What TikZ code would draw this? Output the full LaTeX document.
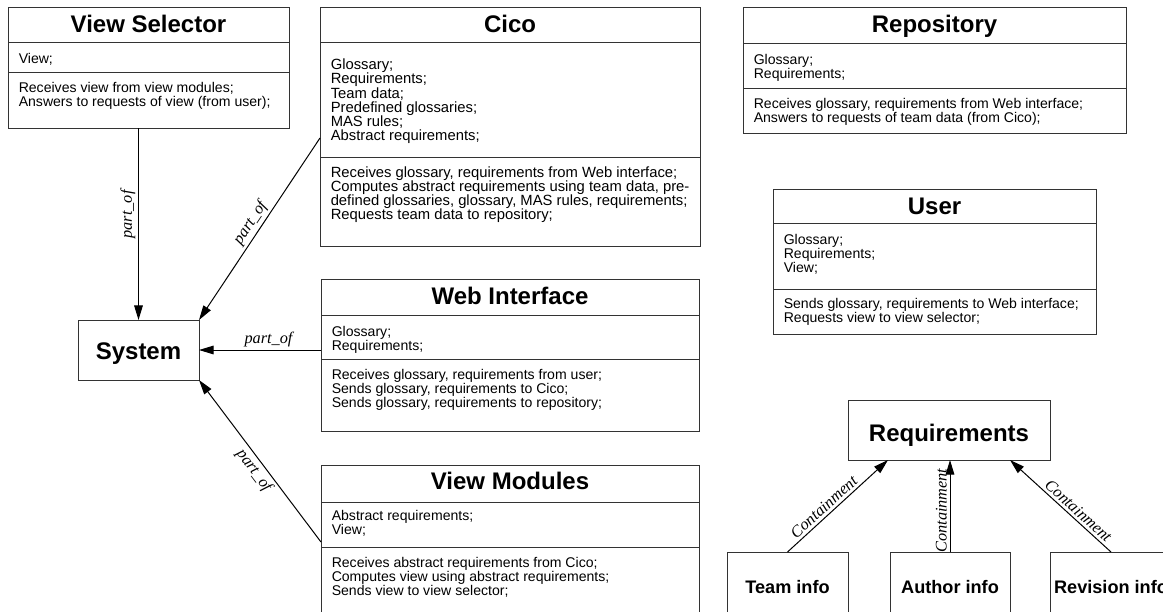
\documentclass[tikz,border=0pt]{standalone}
\usepackage{fontspec}
\setmainfont{Liberation Sans}
\newfontfamily\labfont{Liberation Serif}
\usetikzlibrary{arrows.meta,calc}
\newcommand\clsbox[5]{\node[box, minimum width={(#4-#2)*0.75pt}, minimum height={(#5-#3)*0.75pt}] (#1) at (#2,#3) {};}
\newcommand\clsdiv[2]{\draw[divl] (#1.west |- 0,#2) -- (#1.east |- 0,#2);}
% name, x, first baseline (px), text lines separated by \\
\newcommand\clstext[4]{\node[body] (#1) at (#2,{#3-12}) {\rule{0pt}{9pt}#4};}
\newcommand\clstextc[4]{\node[body, font=\fontsize{11.1}{10.65}\selectfont] (#1) at (#2,{#3-12}) {\rule{0pt}{9pt}#4};}
\begin{document}
\begin{tikzpicture}[x=0.75pt,y=-0.75pt,
 box/.style={draw=black!80, line width=0.75pt, anchor=north west, inner sep=0pt, outer sep=0pt},
 divl/.style={draw=black!80, line width=0.75pt},
 title/.style={anchor=base, inner sep=0pt, font=\fontsize{18}{20}\selectfont\bfseries},
 small/.style={anchor=base, inner sep=0pt, font=\fontsize{13.6}{16}\selectfont\bfseries},
 body/.style={anchor=north west, inner sep=0pt, align=left, font=\fontsize{10.55}{10.6}\selectfont},
 arr/.style={draw=black, line width=0.75pt, -{Triangle[length=11pt,width=6.5pt]}},
 lab/.style={font=\labfont\itshape\fontsize{12.2}{14}\selectfont, inner sep=2pt},
]
\useasboundingbox (0,0) rectangle (1163,611);
\clip (0,0) rectangle (1163,611);

% View Selector
\clsbox{vs}{8}{7}{289}{128}
\node[title] (vs-t) at (148.5,32.5) {View Selector};
\clsdiv{vs}{42}
\clsdiv{vs}{72}
\clstext{vs-a}{18.5}{63}{View;}
\clstext{vs-o}{18.5}{92}{Receives view from view modules;\\Answers to requests of view (from user);}

% Cico
\clsbox{cico}{320}{7}{700}{246}
\node[title] (cico-t) at (510,32.5) {Cico};
\clsdiv{cico}{42}
\clsdiv{cico}{157}
\clstextc{cico-a}{330.5}{69.5}{Glossary;\\Requirements;\\Team data;\\Predefined glossaries;\\MAS rules;\\Abstract requirements;}
\clstextc{cico-o}{330.5}{177}{Receives glossary, requirements from Web interface;\\Computes abstract requirements using team data, pre-\\defined glossaries, glossary, MAS rules, requirements;\\Requests team data to repository;}

% Repository
\clsbox{repo}{743}{7}{1126}{133}
\node[title] (repo-t) at (934.5,32.5) {Repository};
\clsdiv{repo}{43}
\clsdiv{repo}{88}
\clstext{repo-a}{753.5}{64}{Glossary;\\Requirements;}
\clstext{repo-o}{753.5}{108}{Receives glossary, requirements from Web interface;\\Answers to requests of team data (from Cico);}

% User
\clsbox{user}{773}{189}{1096}{334}
\node[title] (user-t) at (934.5,214) {User};
\clsdiv{user}{223}
\clsdiv{user}{289}
\clstext{user-a}{783.5}{244}{Glossary;\\Requirements;\\View;}
\clstext{user-o}{783.5}{308}{Sends glossary, requirements to Web interface;\\Requests view to view selector;}

% Web Interface
\clsbox{web}{321}{279}{699}{431}
\node[title] (web-t) at (510,304) {Web Interface};
\clsdiv{web}{315}
\clsdiv{web}{359}
\clstext{web-a}{331.5}{336}{Glossary;\\Requirements;}
\clstext{web-o}{331.5}{379}{Receives glossary, requirements from user;\\Sends glossary, requirements to Cico;\\Sends glossary, requirements to repository;}

% View Modules
\clsbox{vm}{321}{465}{699}{625}
\node[title] (vm-t) at (510,489) {View Modules};
\clsdiv{vm}{502}
\clsdiv{vm}{547}
\clstext{vm-a}{331.5}{520}{Abstract requirements;\\View;}
\clstext{vm-o}{331.5}{567}{Receives abstract requirements from Cico;\\Computes view using abstract requirements;\\Sends view to view selector;}

% System
\clsbox{sys}{78}{320}{199}{380}
\node[title] (sys-t) at (138.5,359) {System};

% Requirements and info boxes
\clsbox{req}{848}{400}{1050}{460}
\node[title] (req-t) at (949,441.5) {Requirements};
\clsbox{team}{727}{552}{848}{625}
\node[small] (team-t) at (787.5,593) {Team info};
\clsbox{auth}{890}{552}{1010}{625}
\node[small] (auth-t) at (950,593) {Author info};
\clsbox{rev}{1050}{552}{1172}{625}
\node[small] (rev-t) at (1111,593) {Revision info};

% connectors
\draw[arr] (sys.north |- vs.south) -- node[lab, rotate=90, anchor=south, pos=0.45] (l1) {part\_of} (sys.north);
\draw[arr] ($(cico.north west)+(0,131)$) -- node[lab, sloped, above, pos=0.5] (l2) {part\_of} (sys.north east);
\draw[arr] (web.west |- sys.east) -- node[lab, above, pos=0.43] (l3) {part\_of} (sys.east);
\draw[arr] ($(vm.north west)+(0,77)$) -- node[lab, sloped, below, pos=0.48] (l4) {part\_of} (sys.south east);
\draw[arr] (team.north) -- node[lab, sloped, above, pos=0.42] (l5) {Containment} ($(req.south west)+(40,0)$);
\draw[arr] (auth.north) -- node[lab, rotate=90, anchor=south, pos=0.45] (l6) {Containment} (auth.north |- req.south);
\draw[arr] (rev.north) -- node[lab, sloped, above, pos=0.38] (l7) {Containment} ($(req.south east)+(-40,0)$);
\end{tikzpicture}
\end{document}
